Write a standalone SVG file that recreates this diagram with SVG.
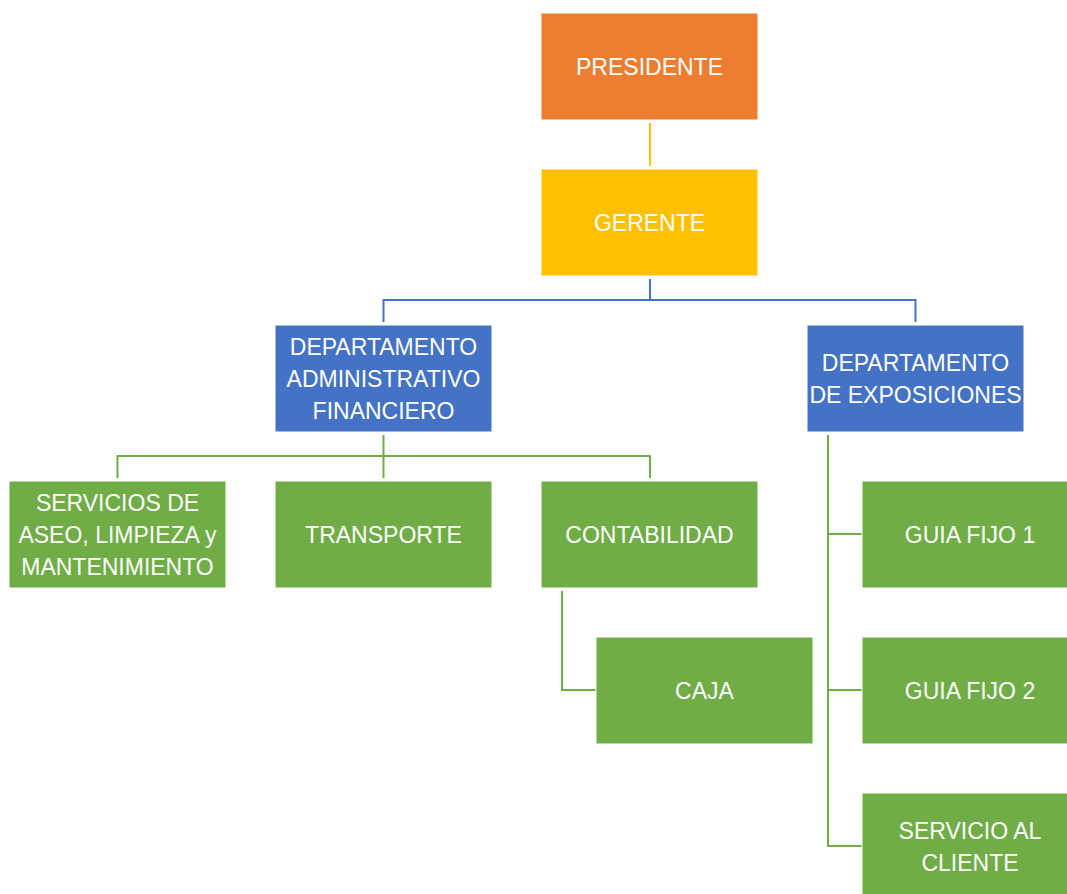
<svg xmlns="http://www.w3.org/2000/svg" width="1067" height="894" viewBox="0 0 1067 894">
<style>
.box{stroke:#ffffff;stroke-width:1}
.or{fill:#ED7D31}.ye{fill:#FFC000}.bl{fill:#4472C4}.gr{fill:#70AD47}
text{font-family:"Liberation Sans",Arial,sans-serif;font-size:23px;fill:#ffffff;text-anchor:middle}
.c{fill:none;stroke-width:2}
.cy{stroke:#FFC000}.cb{stroke:#4472C4}.cg{stroke:#70AD47}
</style>
<rect width="1067" height="894" fill="#ffffff"/>
<g id="connectors">
<path class="c cy" d="M650 123V166"/>
<path class="c cb" d="M650 279V300M383.5 300H915.5M383.5 299V322M915.5 299V322"/>
<path class="c cg" d="M383.5 435V478M117.5 456H650M117.5 455V478M650 455V478"/>
<path class="c cg" d="M562 591V690H596"/>
<path class="c cg" d="M828 435V846M827 534H862M827 690H862M827 846H862"/>
</g>
<g id="presidente"><rect class="box or" x="541" y="13" width="217" height="107"/><text x="649.5" y="75">PRESIDENTE</text></g>
<g id="gerente"><rect class="box ye" x="541" y="169" width="217" height="107"/><text x="649.5" y="231">GERENTE</text></g>
<g id="dept-admin"><rect class="box bl" x="275" y="325" width="217" height="107"/><text x="383.5" y="355">DEPARTAMENTO</text><text x="383.5" y="387">ADMINISTRATIVO</text><text x="383.5" y="419">FINANCIERO</text></g>
<g id="dept-expo"><rect class="box bl" x="807" y="325" width="217" height="107"/><text x="915.5" y="371">DEPARTAMENTO</text><text x="915.5" y="403">DE EXPOSICIONES</text></g>
<g id="servicios"><rect class="box gr" x="9" y="481" width="217" height="107"/><text x="117.5" y="511">SERVICIOS DE</text><text x="117.5" y="543">ASEO, LIMPIEZA y</text><text x="117.5" y="575">MANTENIMIENTO</text></g>
<g id="transporte"><rect class="box gr" x="275" y="481" width="217" height="107"/><text x="383.5" y="543">TRANSPORTE</text></g>
<g id="contabilidad"><rect class="box gr" x="541" y="481" width="217" height="107"/><text x="649.5" y="543">CONTABILIDAD</text></g>
<g id="caja"><rect class="box gr" x="596" y="637" width="217" height="107"/><text x="704.5" y="699">CAJA</text></g>
<g id="guia1"><rect class="box gr" x="862" y="481" width="217" height="107"/><text x="970" y="543">GUIA FIJO 1</text></g>
<g id="guia2"><rect class="box gr" x="862" y="637" width="217" height="107"/><text x="970" y="699">GUIA FIJO 2</text></g>
<g id="servicio-cliente"><rect class="box gr" x="862" y="793" width="217" height="107"/><text x="970" y="839">SERVICIO AL</text><text x="970" y="871">CLIENTE</text></g>
</svg>
